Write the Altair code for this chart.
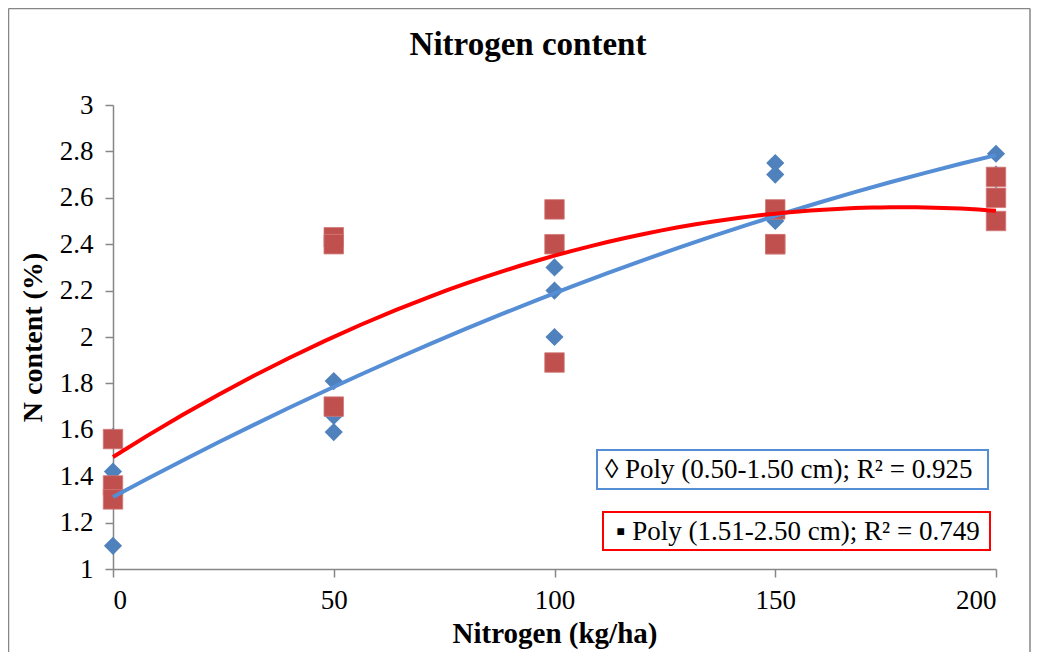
import altair as alt
import pandas as pd

# ---- data ----
blue_x = [0, 0, 0, 50, 50, 50, 100, 100, 100, 150, 150, 150, 200, 200, 200]
blue_y = [1.57, 1.42, 1.10, 1.81, 1.66, 1.59, 2.30, 2.20, 2.00, 2.75, 2.70, 2.50, 2.79, 2.70, 2.68]
red_x = [0, 0, 0, 50, 50, 50, 100, 100, 100, 150, 150, 150, 200, 200, 200]
red_y = [1.56, 1.36, 1.30, 2.43, 2.40, 1.70, 2.55, 2.40, 1.89, 2.55, 2.40, 2.40, 2.69, 2.60, 2.50]

x_ticks = [0, 50, 100, 150, 200]
y_ticks = [1.0, 1.2, 1.4, 1.6, 1.8, 2.0, 2.2, 2.4, 2.6, 2.8, 3.0]

title_text = "Nitrogen content"
x_title = "Nitrogen (kg/ha)"
y_title = "N content (%)"
blue_label = "\u25ca Poly (0.50-1.50 cm); R\u00b2 = 0.925"
red_label = "\u25aa Poly (1.51-2.50 cm); R\u00b2 = 0.749"

FONT = "Liberation Serif"
BLUE_PT = "#4F81BD"
RED_PT = "#C0504D"
BLUE_LN = "#558ED5"
RED_LN = "#FF0000"
GRAY = "#868686"

blue_df = pd.DataFrame({"x": blue_x, "y": blue_y})
red_df = pd.DataFrame({"x": red_x, "y": red_y})

W, H = 883, 464

xs = alt.Scale(domain=[0, 200], nice=False, zero=False)
ys = alt.Scale(domain=[1, 3], nice=False, zero=False)

x_axis = alt.Axis(values=x_ticks, title=x_title, tickSize=8, labelPadding=10,
                  titlePadding=6, format="d", titleFontSize=29)
y_axis = alt.Axis(values=y_ticks, title=y_title, tickSize=8, labelPadding=12,
                  titlePadding=12, format="~g", titleFontSize=28)

blue_pts = alt.Chart(blue_df).mark_point(
    shape="diamond", filled=True, size=330, color=BLUE_PT, opacity=1
).encode(x=alt.X("x:Q", scale=xs, axis=x_axis), y=alt.Y("y:Q", scale=ys, axis=y_axis))

red_pts = alt.Chart(red_df).mark_point(
    shape="square", filled=True, size=380, color=RED_PT, opacity=1,
    stroke="#D07A78", strokeWidth=0.8
).encode(x=alt.X("x:Q", scale=xs), y=alt.Y("y:Q", scale=ys))

blue_fit = alt.Chart(blue_df).transform_regression(
    "x", "y", method="poly", order=2, extent=[0, 200]
).mark_line(color=BLUE_LN, strokeWidth=4).encode(
    x=alt.X("x:Q", scale=xs), y=alt.Y("y:Q", scale=ys))

red_fit = alt.Chart(red_df).transform_regression(
    "x", "y", method="poly", order=2, extent=[0, 200]
).mark_line(color=RED_LN, strokeWidth=4).encode(
    x=alt.X("x:Q", scale=xs), y=alt.Y("y:Q", scale=ys))

one = pd.DataFrame({"k": [0]})

# legend boxes (pixel positions inside plot area)
blue_box = alt.Chart(one).mark_rect(fill="white", stroke=BLUE_LN, strokeWidth=2).encode(
    x=alt.value(484), x2=alt.value(875), y=alt.value(345), y2=alt.value(384))
red_box = alt.Chart(one).mark_rect(fill="white", stroke=RED_LN, strokeWidth=2).encode(
    x=alt.value(490), x2=alt.value(877), y=alt.value(407), y2=alt.value(445))

blue_txt = alt.Chart(pd.DataFrame({"t": [blue_label]})).mark_text(
    font=FONT, fontSize=27, align="left", baseline="middle", color="black"
).encode(text="t:N", x=alt.value(492), y=alt.value(365))
red_txt = alt.Chart(pd.DataFrame({"t": [red_label]})).mark_text(
    font=FONT, fontSize=27, align="left", baseline="middle", color="black"
).encode(text="t:N", x=alt.value(503), y=alt.value(427))

title_mark = alt.Chart(pd.DataFrame({"t": [title_text]})).mark_text(
    font=FONT, fontSize=33, fontWeight="bold", align="center", baseline="alphabetic",
    color="black"
).encode(text="t:N", x=alt.value(415), y=alt.value(-50))

# outer frame (left, top, right)
frame_l = alt.Chart(one).mark_rule(color=GRAY, strokeWidth=1.5).encode(
    x=alt.value(-104.5), y=alt.value(-96.5), y2=alt.value(560))
frame_t = alt.Chart(one).mark_rule(color=GRAY, strokeWidth=1.5).encode(
    x=alt.value(-104.5), x2=alt.value(917), y=alt.value(-96.5))
frame_r = alt.Chart(one).mark_rule(color=GRAY, strokeWidth=1.5).encode(
    x=alt.value(917), y=alt.value(-96.5), y2=alt.value(560))

chart = alt.layer(
    frame_l, frame_t, frame_r,
    blue_pts, red_pts, blue_fit, red_fit,
    blue_box, red_box, blue_txt, red_txt, title_mark,
).properties(
    width=W, height=H,
    autosize=alt.AutoSizeParams(type="none"),
    padding={"left": 105, "top": 97, "right": 35, "bottom": 83},
    background="white",
).configure_view(stroke=None).configure_axis(
    grid=False, domainColor=GRAY, domainWidth=1.5, tickColor=GRAY, tickWidth=1.5,
    labelFont=FONT, labelFontSize=27, labelColor="black",
    titleFont=FONT, titleFontWeight="bold", titleColor="black",
)

chart.save("out.html", embed_options={"renderer": "svg", "actions": False})
